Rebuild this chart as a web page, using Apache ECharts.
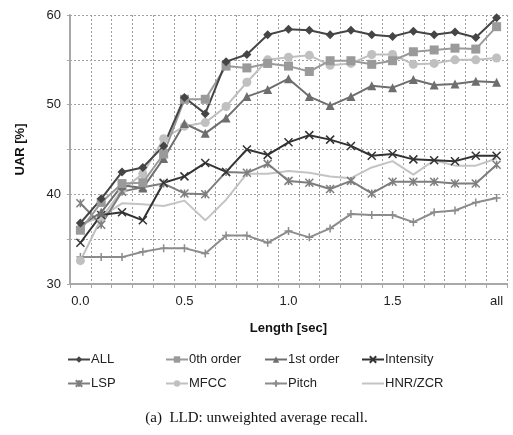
<!DOCTYPE html>
<html>
<head>
<meta charset="utf-8">
<script src="https://cdn.jsdelivr.net/npm/echarts@6/dist/echarts.min.js"></script>
<style>
  html, body { margin: 0; padding: 0; background: #fff; }
  #chart { width: 513px; height: 435px; }
</style>
</head>
<body>
<div id="chart"></div>
<script>
let categories = ["0.0", "0.1", "0.2", "0.3", "0.4", "0.5", "0.6", "0.7", "0.8", "0.9",
    "1.0", "1.1", "1.2", "1.3", "1.4", "1.5", "1.6", "1.7", "1.8", "1.9", "all"];

let allVals = [36.8, 39.5, 42.5, 43.0, 45.4, 50.8, 49.0, 54.8, 55.6, 57.8, 58.4, 58.3, 57.8, 58.3, 57.8, 57.6, 58.2, 57.8, 58.1, 57.5, 59.7];
let order0 = [36.0, 39.1, 41.2, 41.3, 44.5, 50.6, 50.6, 54.3, 54.1, 54.6, 54.3, 53.7, 54.9, 54.9, 54.5, 54.9, 55.9, 56.1, 56.3, 56.2, 58.7];
let order1 = [36.5, 38.0, 41.0, 40.7, 44.0, 47.9, 46.8, 48.5, 50.9, 51.7, 52.9, 50.9, 49.9, 50.9, 52.1, 51.9, 52.8, 52.2, 52.3, 52.6, 52.5];
let intensity = [34.6, 37.7, 38.0, 37.1, 41.3, 42.0, 43.5, 42.5, 45.0, 44.4, 45.8, 46.6, 46.1, 45.4, 44.3, 44.5, 43.9, 43.8, 43.7, 44.3, 44.3];
let lsp = [39.0, 36.6, 40.3, 40.8, 41.2, 40.1, 40.0, 42.5, 42.4, 43.4, 41.5, 41.3, 40.6, 41.5, 40.1, 41.4, 41.4, 41.4, 41.2, 41.2, 43.3];
let mfcc = [32.6, 37.3, 40.5, 42.3, 46.2, 47.6, 48.0, 49.8, 52.5, 55.0, 55.3, 55.5, 54.4, 54.6, 55.6, 55.6, 54.5, 54.6, 55.0, 55.0, 55.2];
let pitch = [33.0, 33.0, 33.0, 33.6, 34.0, 34.0, 33.4, 35.4, 35.4, 34.6, 35.9, 35.2, 36.2, 37.8, 37.7, 37.7, 36.9, 38.0, 38.2, 39.1, 39.6];
let hnr = [36.6, 37.5, 39.0, 38.9, 38.7, 39.3, 37.1, 39.4, 42.3, 42.3, 42.6, 42.4, 42.0, 41.8, 43.0, 43.7, 42.2, 43.8, 43.2, 43.2, 44.0];

let chart = echarts.init(document.getElementById("chart"));

const X_SYM = "path://M0,0L10,10M10,0L0,10";
const AST_SYM = "path://M0,0L10,10M10,0L0,10M5,0L5,10";
const PLUS_SYM = "path://M5,0L5,10M0,5L10,5";

function makeSeries(name, data, color, symbol, size, stroked) {
    return {
        name: name,
        type: "line",
        data: data,
        symbol: symbol,
        symbolSize: size,
        showSymbol: symbol !== "none",
        lineStyle: { color: color, width: 2 },
        itemStyle: stroked
            ? { color: color, borderColor: color, borderWidth: 1.5 }
            : { color: color, borderWidth: 0 },
        emphasis: { disabled: true },
        z: 2
    };
}

let series = [
    makeSeries("HNR/ZCR", hnr, "#c4c4c4", "none", 0, false),
    makeSeries("Pitch", pitch, "#8c8c8c", PLUS_SYM, 8, true),
    makeSeries("MFCC", mfcc, "#c0c0c0", "circle", 9, false),
    makeSeries("LSP", lsp, "#7e7e7e", AST_SYM, 8, true),
    makeSeries("Intensity", intensity, "#333333", X_SYM, 8, true),
    makeSeries("1st order", order1, "#6e6e6e", "triangle", 9, false),
    makeSeries("0th order", order0, "#9a9a9a", "rect", 9, false),
    makeSeries("ALL", allVals, "#454545", "diamond", 9, false)
];

let legendCols = [62, 160, 259, 356];
let legendRows = [348, 372];
let legendNames = [["ALL", "0th order", "1st order", "Intensity"], ["LSP", "MFCC", "Pitch", "HNR/ZCR"]];
let legends = [];
legendNames.forEach((row, r) => {
    row.forEach((name, c) => {
        let item = name === "HNR/ZCR" ? { name: name, itemStyle: { opacity: 0 } } : name;
        legends.push({
            data: [item],
            left: legendCols[c],
            top: legendRows[r],
            itemWidth: 22,
            itemHeight: 8,
            itemGap: 0,
            selectedMode: false,
            textStyle: { fontFamily: "Liberation Sans", fontSize: 13, color: "#222", padding: [0, 0, 0, -4] }
        });
    });
});

let option = {
    animation: false,
    title: {
        text: "(a)  LLD: unweighted average recall.",
        left: "center",
        top: 406,
        textStyle: { fontFamily: "Liberation Serif", fontSize: 15, fontWeight: "normal", color: "#111" }
    },
    legend: legends,
    grid: { left: 70, right: 6, top: 15, bottom: 151 },
    xAxis: {
        type: "category",
        data: categories,
        boundaryGap: true,
        name: "Length [sec]",
        nameLocation: "middle",
        nameGap: 38,
        nameTextStyle: { fontFamily: "Liberation Sans", fontSize: 13, fontWeight: "bold", color: "#111" },
        axisLine: { lineStyle: { color: "#a8a8a8", width: 2 } },
        axisTick: { show: true, interval: 0, length: 4, lineStyle: { color: "#a8a8a8" } },
        axisLabel: { interval: 4, margin: 11, fontFamily: "Liberation Sans", fontSize: 13, color: "#222" },
        splitLine: { show: true, interval: 0, lineStyle: { color: "#a0a0a0", type: [2, 2], width: 1 } }
    },
    yAxis: {
        type: "value",
        min: 30,
        max: 60,
        interval: 5,
        name: "UAR [%]",
        nameLocation: "middle",
        nameGap: 43,
        nameRotate: 90,
        nameTextStyle: { fontFamily: "Liberation Sans", fontSize: 13, fontWeight: "bold", color: "#111" },
        axisLine: { show: true, lineStyle: { color: "#a8a8a8", width: 2 } },
        axisTick: { show: true, length: 3, lineStyle: { color: "#a8a8a8" } },
        axisLabel: {
            margin: 9,
            fontFamily: "Liberation Sans",
            fontSize: 13,
            color: "#222",
            formatter: v => (v % 10 === 0 ? String(v) : "")
        },
        splitLine: { show: true, lineStyle: { color: "#a0a0a0", type: [2, 2], width: 1 } }
    },
    series: series
};

chart.setOption(option);
</script>
</body>
</html>
